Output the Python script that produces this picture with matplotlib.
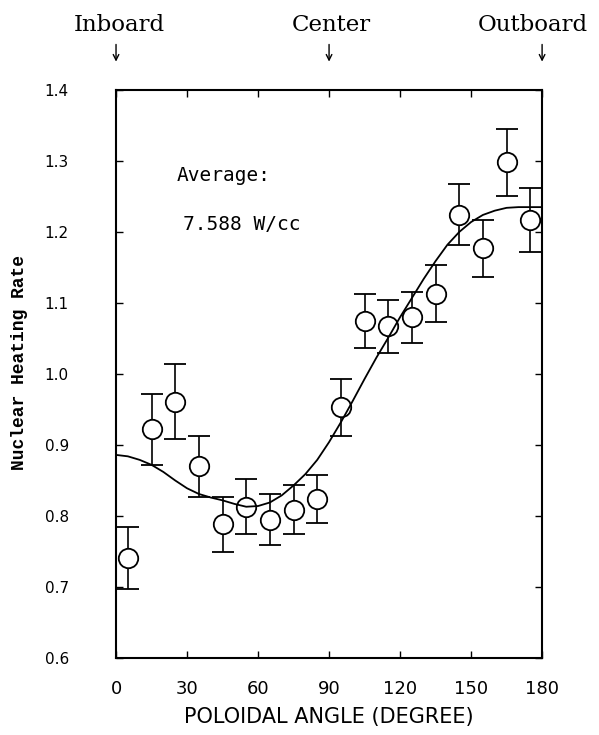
"""Nuclear heating rate vs poloidal angle, measured points with a fitted curve."""

import matplotlib

matplotlib.use("Agg")

import matplotlib.pyplot as plt

# measured points (every 10 degrees, starting at 5)
angles = [5, 15, 25, 35, 45, 55, 65, 75, 85, 95, 105, 115, 125, 135, 145, 155, 165, 175]
heating = [0.741, 0.922, 0.961, 0.870, 0.788, 0.813, 0.795, 0.809, 0.824,
           0.953, 1.074, 1.067, 1.080, 1.113, 1.224, 1.177, 1.298, 1.217]
errors = [0.044, 0.050, 0.053, 0.043, 0.039, 0.039, 0.036, 0.035, 0.034,
          0.040, 0.038, 0.037, 0.036, 0.040, 0.043, 0.040, 0.047, 0.045]

# fitted curve, every 5 degrees
fit_angles = [0, 5, 10, 15, 20, 25, 30, 35, 40, 45, 50, 55, 60, 65, 70, 75, 80, 85, 90,
              95, 100, 105, 110, 115, 120, 125, 130, 135, 140, 145, 150, 155, 160,
              165, 170, 175, 180]
fit_values = [0.886, 0.884, 0.879, 0.872, 0.862, 0.850, 0.839, 0.831, 0.826, 0.822,
              0.817, 0.813, 0.814, 0.819, 0.829, 0.843, 0.859, 0.879, 0.904, 0.932,
              0.962, 0.993, 1.023, 1.051, 1.080, 1.107, 1.134, 1.159, 1.182, 1.200,
              1.214, 1.224, 1.230, 1.234, 1.235, 1.235, 1.235]

x_ticks = [0, 30, 60, 90, 120, 150, 180]
y_ticks = [0.6, 0.7, 0.8, 0.9, 1.0, 1.1, 1.2, 1.3, 1.4]

# top markers: arrow angle, label angle, label
positions = [(0, 1.5, "Inboard"), (90, 91, "Center"), (180, 176, "Outboard")]


def main():
    fig = plt.figure(figsize=(5.99, 7.35), dpi=100)
    ax = fig.add_axes([0.1937, 0.1048, 0.7113, 0.7728])

    ax.errorbar(angles, heating, yerr=errors, fmt="none", ecolor="black",
                elinewidth=1.2, capsize=8, capthick=1.3, zorder=2)
    ax.plot(angles, heating, "o", ms=14, mfc="white", mec="black", mew=1.3,
            zorder=3, clip_on=False)
    ax.plot(fit_angles, fit_values, color="black", lw=1.3, zorder=4)

    ax.set_xlim(0, 180)
    ax.set_ylim(0.6, 1.4)
    ax.set_xticks(x_ticks)
    ax.set_yticks(y_ticks)
    ax.set_yticklabels(["{:.1f}".format(v) for v in y_ticks])
    ax.tick_params(direction="in", top=True, right=True, length=5, width=1)
    ax.tick_params(axis="x", labelsize=13, pad=16)
    ax.tick_params(axis="y", labelsize=11, pad=34)
    for side in ax.spines.values():
        side.set_linewidth(1.5)

    ax.set_xlabel("POLOIDAL ANGLE (DEGREE)", fontsize=15, labelpad=6)
    fig.text(20 / 599, 1 - 363 / 735, "Nuclear Heating Rate", rotation=90,
             ha="center", va="center", family="Liberation Mono",
             fontweight="bold", fontsize=13)

    ax.text(25.8, 1.280, "Average:", family="DejaVu Sans Mono", fontsize=14,
            va="center")
    ax.text(28.3, 1.210, "7.588 W/cc", family="DejaVu Sans Mono", fontsize=14,
            va="center")

    for x, label_x, name in positions:
        ax.text(label_x, 1.492, name, family="DejaVu Serif", fontsize=16.5,
                ha="center", va="center", clip_on=False)
        ax.annotate("", xy=(x, 1.436), xytext=(x, 1.468), annotation_clip=False,
                    arrowprops=dict(arrowstyle="->", lw=1, color="black",
                                    mutation_scale=10))

    fig.savefig("out.png", dpi=100)
    plt.close(fig)


if __name__ == "__main__":
    main()
